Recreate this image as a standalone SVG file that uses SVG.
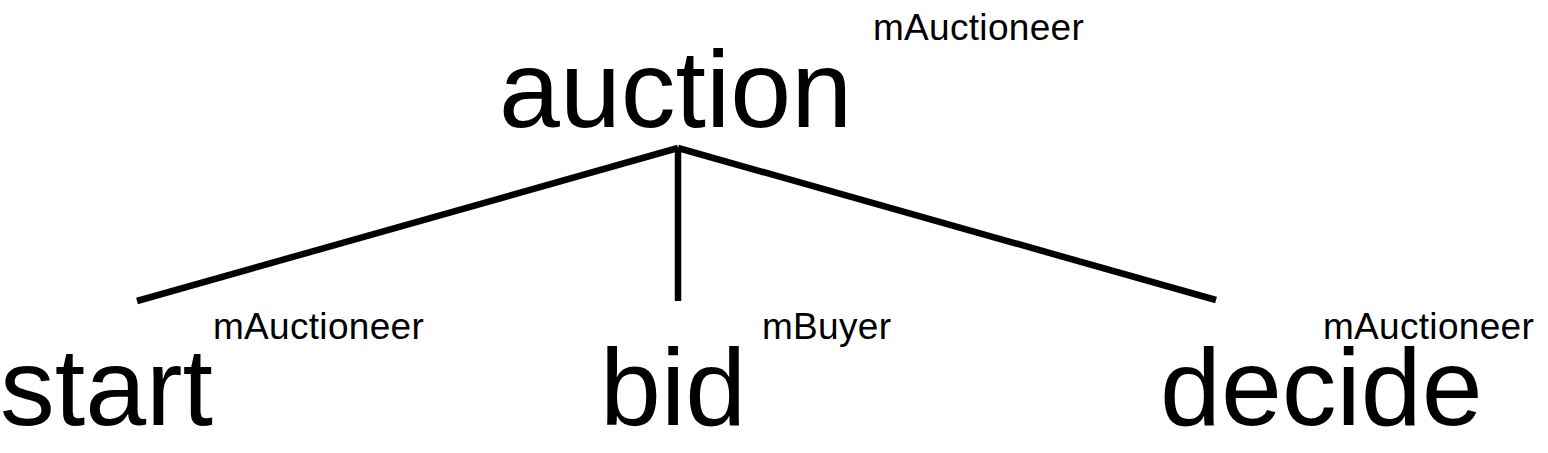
<svg xmlns="http://www.w3.org/2000/svg" width="1548" height="453" viewBox="0 0 1548 453">
<style>
text{font-family:"Liberation Sans",Arial,sans-serif;fill:#000}
.big{font-size:109.5px}
.small{font-size:37px;letter-spacing:0.3px}
.edge{stroke:#000;stroke-width:6.5;fill:none}
</style>
<rect width="1548" height="453" fill="#fff"/>
<g id="connectors">
<line class="edge" x1="678" y1="148" x2="137" y2="301"/>
<line class="edge" x1="678" y1="148" x2="678" y2="301"/>
<line class="edge" x1="678" y1="148" x2="1216" y2="300"/>
</g>
<g id="auction">
<text class="big" x="499" y="127">auction</text>
<text class="small" x="873" y="40">mAuctioneer</text>
</g>
<g id="start">
<text class="big" x="0" y="425">start</text>
<text class="small" x="213" y="339">mAuctioneer</text>
</g>
<g id="bid">
<text class="big" x="600" y="425">bid</text>
<text class="small" x="762" y="339">mBuyer</text>
</g>
<g id="decide">
<text class="big" x="1160" y="425">decide</text>
<text class="small" x="1323" y="339">mAuctioneer</text>
</g>
</svg>
